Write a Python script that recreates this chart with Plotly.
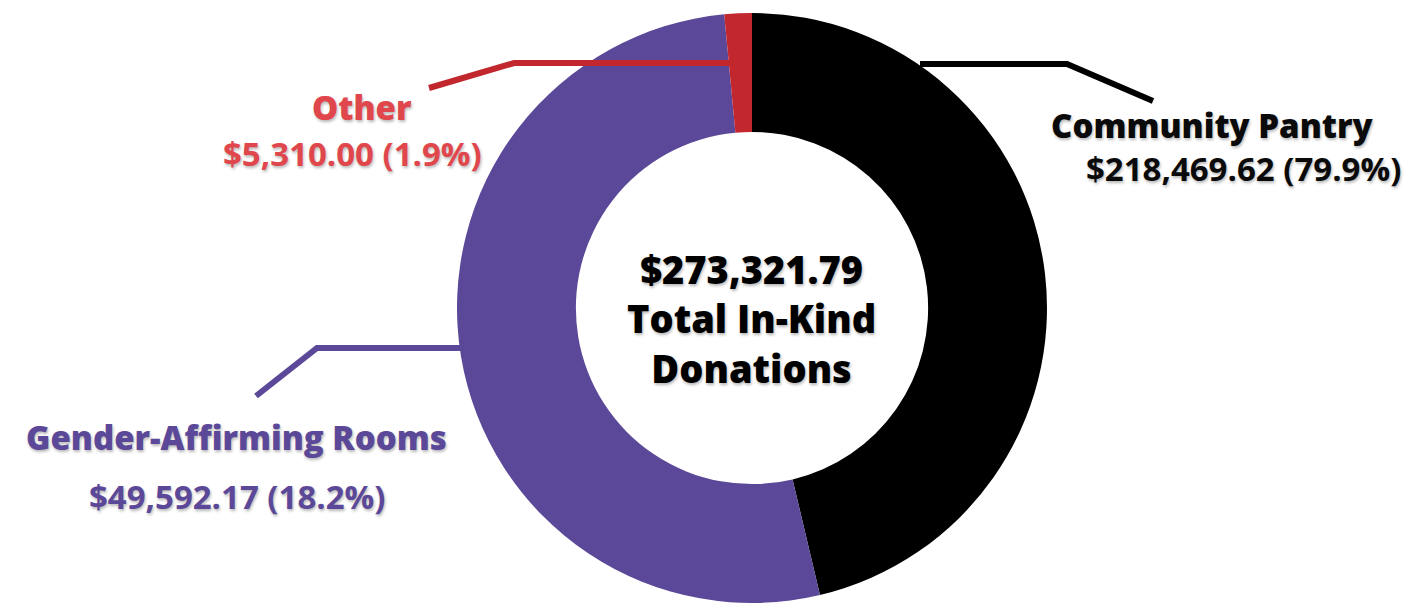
import plotly.graph_objects as go

# ---- data ----
categories = ["Community Pantry", "Gender-Affirming Rooms", "Other"]
amounts = ["$218,469.62", "$49,592.17", "$5,310.00"]
percent_labels = ["79.9%", "18.2%", "1.9%"]
# slice sizes as drawn in the picture (share of the ring, %)
slice_shares = [46.3, 52.2, 1.5]
total_label = "$273,321.79"
center_lines = ["Total In-Kind", "Donations"]

slice_colors = ["#000000", "#5c4898", "#c1272d"]
label_colors = ["#0a0a0a", "#5c4898", "#e0474c"]

W, H = 1405, 603
FONT = "Open Sans"
SHADOW = "1px 2px 3px rgba(0,0,0,0.28)"


def px(x):
    return x / W


def py(y):
    return 1 - y / H


fig = go.Figure()
fig.add_trace(go.Pie(
    labels=categories,
    values=slice_shares,
    hole=0.597,
    sort=False,
    direction="clockwise",
    rotation=0,
    marker=dict(colors=slice_colors, line=dict(width=0)),
    textinfo="none",
    showlegend=False,
    domain=dict(x=[px(457), px(1047)], y=[0, py(13)]),
))

# leader lines (pixel positions converted to paper)
leaders = [
    ([(920, 64), (1067, 64), (1153, 101)], slice_colors[0]),
    ([(462, 348), (317, 348), (256, 396)], slice_colors[1]),
    ([(745, 63), (514, 63), (429, 88)], slice_colors[2]),
]
for pts, col in leaders:
    path = "M " + " L ".join(f"{px(x):.5f},{py(y):.5f}" for x, y in pts)
    fig.add_shape(type="path", path=path, xref="paper", yref="paper",
                  line=dict(color=col, width=6), layer="above")

# labels
label_pos = [
    ((1212, 126), (1243, 168)),
    ((237, 437), (237, 496)),
    ((362, 108), (352, 153)),
]
for i, cat in enumerate(categories):
    (nx, ny), (vx, vy) = label_pos[i]
    fig.add_annotation(x=px(nx), y=py(ny), xref="paper", yref="paper",
                       text=cat, showarrow=False, xanchor="center", yanchor="middle",
                       font=dict(family=FONT, size=33, color=label_colors[i],
                                 weight=800, shadow=SHADOW))
    fig.add_annotation(x=px(vx), y=py(vy), xref="paper", yref="paper",
                       text=f"{amounts[i]} ({percent_labels[i]})", showarrow=False,
                       xanchor="center", yanchor="middle",
                       font=dict(family=FONT, size=33, color=label_colors[i],
                                 weight=700, shadow=SHADOW))

# centre text (one block, three lines)
fig.add_annotation(x=px(751), y=py(318), xref="paper", yref="paper",
                   text="<br>".join([total_label] + center_lines), showarrow=False,
                   xanchor="center", yanchor="middle", align="center",
                   font=dict(family=FONT, size=38, color="#000000",
                             weight=800, shadow=SHADOW))

fig.update_layout(
    width=W, height=H,
    margin=dict(l=0, r=0, t=0, b=0),
    paper_bgcolor="white", plot_bgcolor="white",
)

fig.write_html(
    "out.html",
    config={"displayModeBar": False},
    post_script="document.body.style.margin='0';document.body.style.overflow='hidden';",
)
